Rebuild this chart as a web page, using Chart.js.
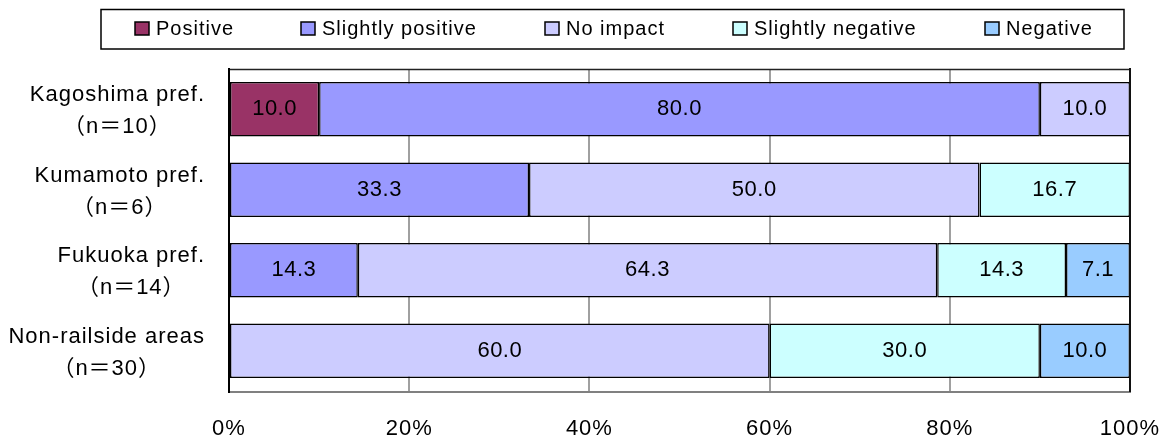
<!DOCTYPE html>
<html><head><meta charset="utf-8">
<script src="https://cdn.jsdelivr.net/npm/chart.js@4/dist/chart.umd.min.js"></script>
<style>html,body{margin:0;padding:0;background:#fff;overflow:hidden}</style>
</head><body>
<canvas id="c" width="1164" height="439"></canvas>
<script>
const categories = [["Kagoshima pref.","（n＝10）"],["Kumamoto pref.","（n＝6）"],["Fukuoka pref.","（n＝14）"],["Non-railside areas","（n＝30）"]];
const seriesNames = ["Positive","Slightly positive","No impact","Slightly negative","Negative"];
const positive = [10.0, 0, 0, 0];
const slightlyPositive = [80.0, 33.3, 14.3, 0];
const noImpact = [10.0, 50.0, 64.3, 60.0];
const slightlyNegative = [0, 16.7, 14.3, 30.0];
const negative = [0, 0, 7.1, 10.0];
const xTickStep = 20;
const xTickSuffix = "%";
const colors = ["#993366","#9999FF","#CCCCFF","#CCFFFF","#99CCFF"];

const FONT = '"Liberation Sans", Arial, "Noto Sans CJK JP", sans-serif';
const seriesValues = [positive, slightlyPositive, noImpact, slightlyNegative, negative];
const legendMarkerX = [135, 301, 545, 733, 985];

const datasets = seriesNames.map((name, i) => ({
  label: name,
  data: seriesValues[i],
  backgroundColor: colors[i],
  borderColor: "#000",
  borderWidth: c => (c.raw ? 1.5 : 0),
  borderSkipped: false,
  barPercentage: 0.68,
  categoryPercentage: 1.0
}));

const spacingPlugin = {
  id: "spacing",
  beforeDraw(chart) { chart.ctx.letterSpacing = "1px"; },
  afterDraw(chart) { chart.ctx.letterSpacing = "0px"; }
};

const framePlugin = {
  id: "frame",
  afterDatasetsDraw(chart) {
    const {ctx, chartArea: a} = chart;
    ctx.save();
    ctx.lineCap = "square";
    ctx.strokeStyle = "#808080"; ctx.lineWidth = 2;
    ctx.beginPath(); ctx.moveTo(a.left, a.bottom + 1); ctx.lineTo(a.right, a.bottom + 1); ctx.stroke();
    ctx.strokeStyle = "#222"; ctx.lineWidth = 1.5;
    ctx.beginPath(); ctx.moveTo(a.left, a.top + 0.5); ctx.lineTo(a.right, a.top + 0.5); ctx.stroke();
    ctx.strokeStyle = "#111"; ctx.lineWidth = 2;
    ctx.beginPath(); ctx.moveTo(a.right, a.top); ctx.lineTo(a.right, a.bottom); ctx.stroke();
    ctx.strokeStyle = "#000"; ctx.lineWidth = 2;
    ctx.beginPath(); ctx.moveTo(a.left, a.top); ctx.lineTo(a.left, a.bottom + 1); ctx.stroke();
    ctx.restore();
  }
};

const valueLabelPlugin = {
  id: "valueLabels",
  afterDatasetsDraw(chart) {
    const ctx = chart.ctx;
    ctx.save();
    ctx.font = "22px " + FONT;
    ctx.letterSpacing = "0.5px";
    ctx.fillStyle = "#000";
    ctx.textAlign = "center";
    ctx.textBaseline = "middle";
    chart.data.datasets.forEach((ds, i) => {
      const meta = chart.getDatasetMeta(i);
      meta.data.forEach((el, j) => {
        const v = ds.data[j];
        if (!v) return;
        ctx.fillText(v.toFixed(1), (el.x + el.base) / 2, el.y);
      });
    });
    ctx.restore();
  }
};

const categoryLabelPlugin = {
  id: "categoryLabels",
  afterDraw(chart) {
    const ctx = chart.ctx;
    const yScale = chart.scales.y;
    ctx.save();
    ctx.font = "22px " + FONT;
    ctx.letterSpacing = "1px";
    ctx.fillStyle = "#000";
    ctx.textAlign = "center";
    ctx.textBaseline = "alphabetic";
    const rightEdge = chart.chartArea.left - 24;
    categories.forEach((lines, i) => {
      const y = yScale.getPixelForValue(i);
      const w = Math.max(...lines.map(l => ctx.measureText(l).width));
      const cx = rightEdge - w / 2;
      ctx.fillText(lines[0], cx, y - 8);
      ctx.fillText(lines[1], cx, y + 24);
    });
    ctx.restore();
  }
};

const legendPlugin = {
  id: "boxLegend",
  afterDraw(chart) {
    const ctx = chart.ctx;
    ctx.save();
    ctx.strokeStyle = "#000";
    ctx.lineWidth = 1.5;
    ctx.strokeRect(101, 9.5, 1023, 39.5);
    ctx.font = "20px " + FONT;
    ctx.letterSpacing = "1px";
    ctx.textBaseline = "alphabetic";
    ctx.textAlign = "left";
    seriesNames.forEach((name, i) => {
      const x = legendMarkerX[i];
      ctx.fillStyle = colors[i];
      ctx.fillRect(x, 22, 14, 13);
      ctx.strokeStyle = "#000"; ctx.lineWidth = 1.5;
      ctx.strokeRect(x, 22, 14, 13);
      ctx.fillStyle = "#000";
      ctx.fillText(name, x + 21, 35);
    });
    ctx.restore();
  }
};

new Chart(document.getElementById("c"), {
  type: "bar",
  data: { labels: categories, datasets },
  options: {
    indexAxis: "y",
    responsive: false,
    animation: false,
    devicePixelRatio: 1,
    layout: { padding: { top: 69, right: 34, left: 0, bottom: 0 } },
    plugins: { legend: { display: false }, tooltip: { enabled: false } },
    scales: {
      x: {
        stacked: true, min: 0, max: 100,
        ticks: { stepSize: xTickStep, callback: v => v + xTickSuffix, color: "#000",
                 font: { family: FONT, size: 22 }, padding: 25, maxRotation: 0 },
        grid: { drawTicks: false, lineWidth: 2,
                color: c => (c.tick && (c.tick.value === 0 || c.tick.value === 100)) ? "rgba(0,0,0,0)" : "#a0a0a0" },
        border: { display: false },
        afterFit: s => { s.height = 48; s.paddingLeft = 0; s.paddingRight = 0; }
      },
      y: {
        stacked: true,
        ticks: { display: false },
        grid: { display: false },
        border: { display: false },
        afterFit: s => { s.width = 229; }
      }
    }
  },
  plugins: [spacingPlugin, framePlugin, valueLabelPlugin, categoryLabelPlugin, legendPlugin]
});
</script>
</body></html>
